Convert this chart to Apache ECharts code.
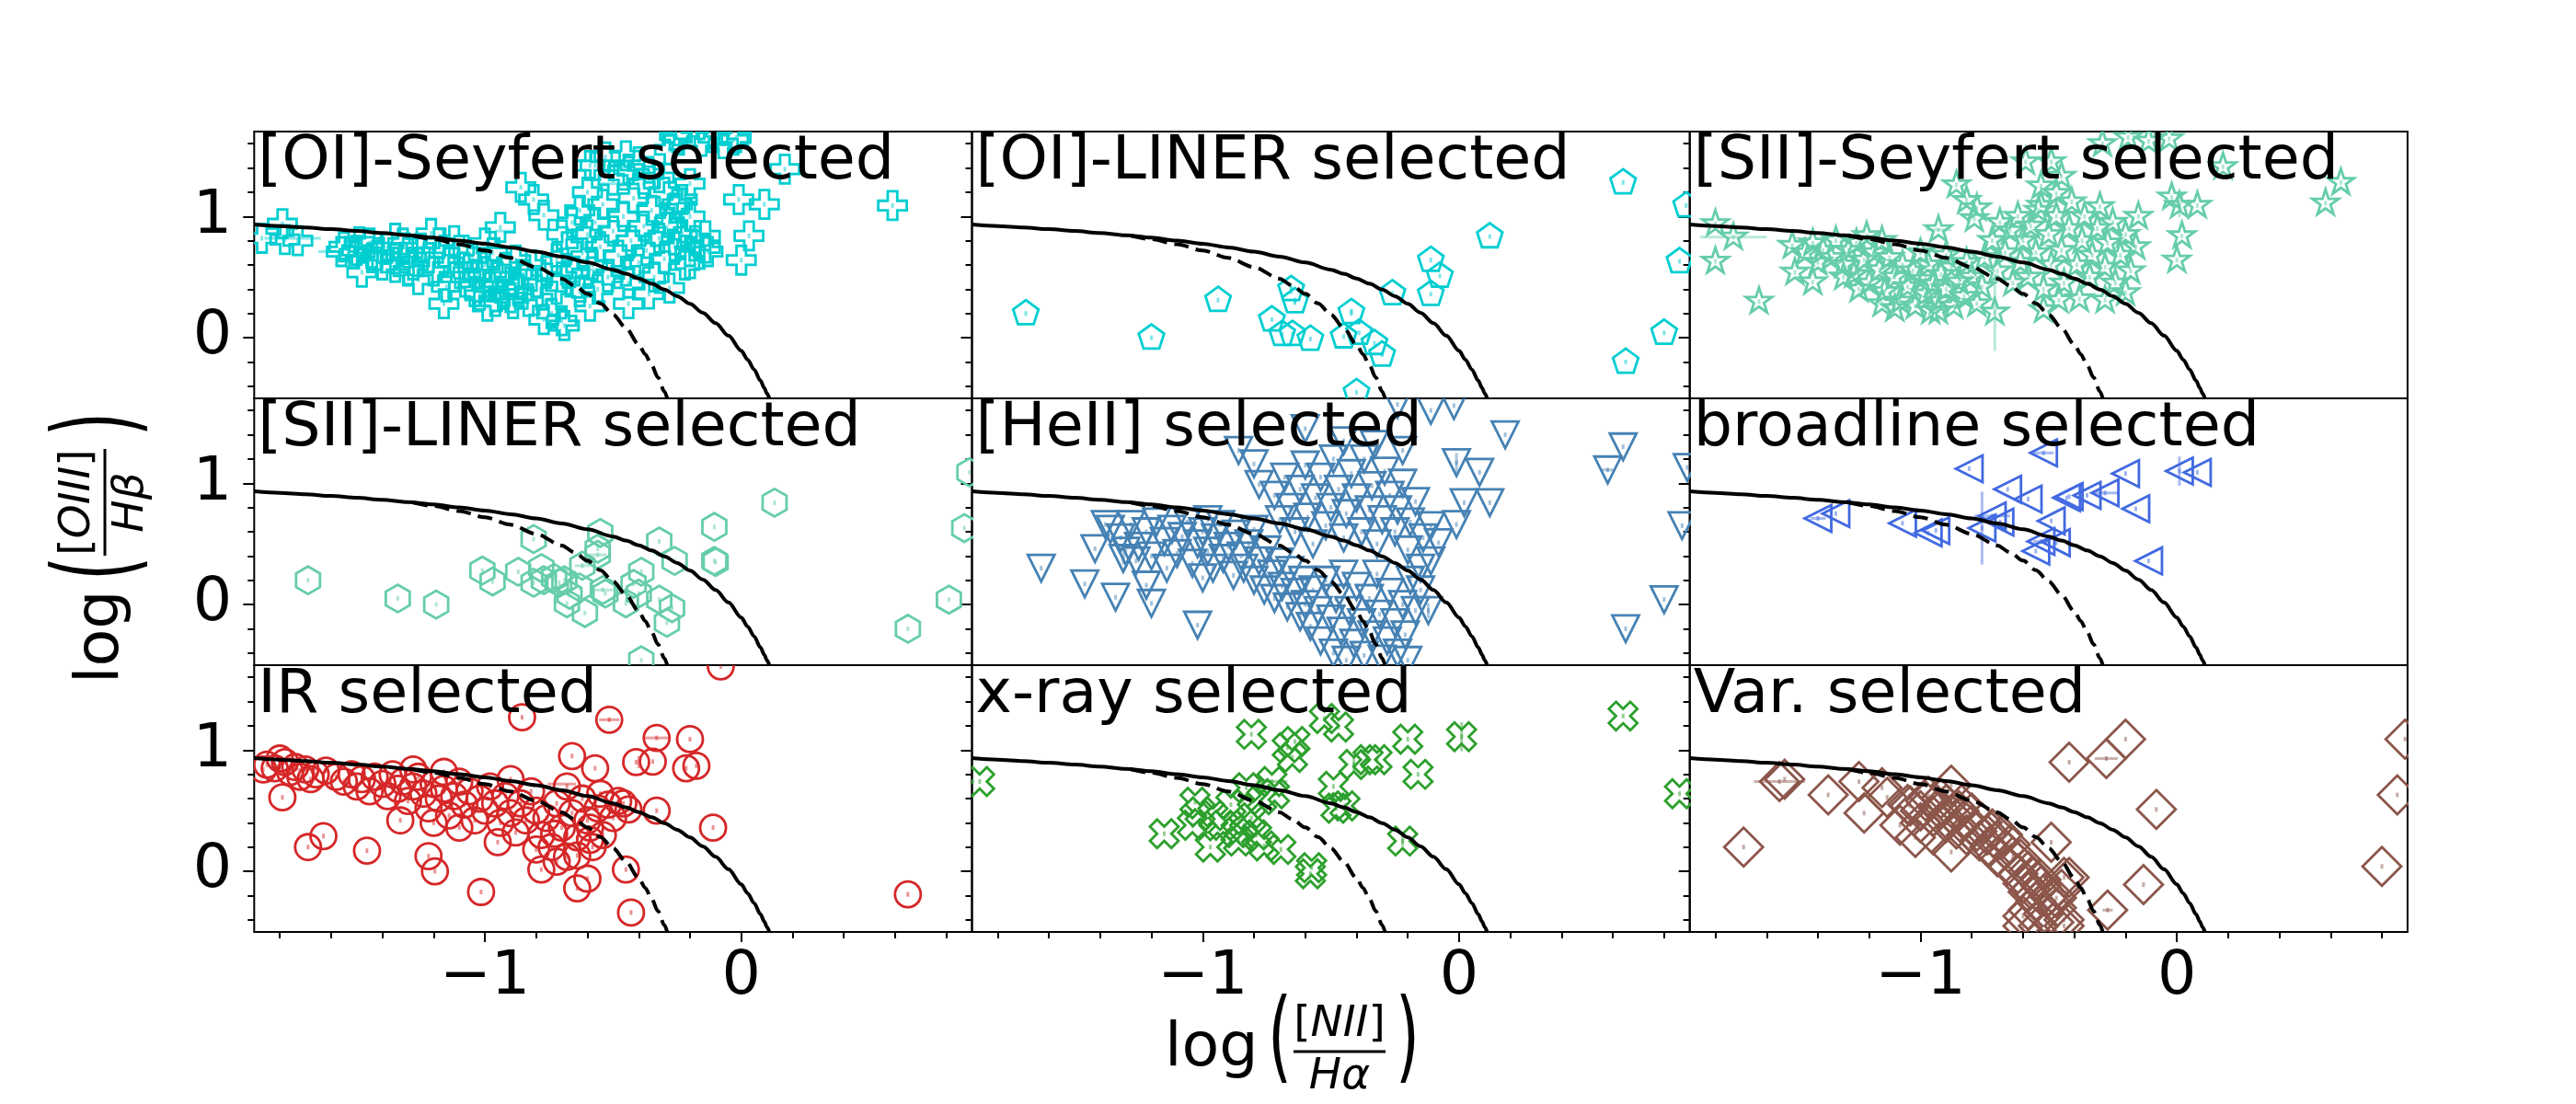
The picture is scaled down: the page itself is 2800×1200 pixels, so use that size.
<!DOCTYPE html>
<html><head><meta charset="utf-8">
<script src="https://cdn.jsdelivr.net/npm/echarts@6/dist/echarts.min.js"></script>
<style>html,body{margin:0;padding:0;background:#fff}#c{width:2800px;height:1200px}</style>
</head><body><div id="c"></div>
<script>
// ---------- axis ranges & ticks ----------
const xRange = [-1.9, 0.9];
const yRange = [-0.5, 1.7];
const xMajorTicks = [-1, 0];
const xMinorTicks = [-1.8,-1.6,-1.4,-1.2,-0.8,-0.6,-0.4,-0.2,0.2,0.4,0.6,0.8];
const yMajorTicks = [0, 1];
const yMinorTicks = [-0.4,-0.2,0.2,0.4,0.6,0.8,1.2,1.4,1.6];

const panelTitles = ['[OI]-Seyfert selected','[OI]-LINER selected','[SII]-Seyfert selected',
  '[SII]-LINER selected','[HeII] selected','broadline selected',
  'IR selected','x-ray selected','Var. selected'];

// ---------- demarcation curves ----------
const kewleyCurve = [[-1.9,0.933],[-1.8,0.921],[-1.7,0.909],[-1.6,0.895],[-1.5,0.880],[-1.4,0.864],[-1.3,0.845],[-1.2,0.825],[-1.1,0.801],[-1.0,0.775],[-0.9,0.745],[-0.8,0.710],[-0.7,0.669],[-0.6,0.620],[-0.5,0.561],[-0.45,0.527],[-0.4,0.489],[-0.35,0.446],[-0.3,0.398],[-0.25,0.343],[-0.2,0.280],[-0.15,0.206],[-0.1,0.120],[-0.05,0.017],[0.0,-0.108],[0.025,-0.181],[0.05,-0.262],[0.075,-0.354],[0.09,-0.415],[0.1,-0.459],[0.11,-0.504]];
const kauffmannCurve = [[-1.28,0.841],[-1.2,0.812],[-1.1,0.770],[-1.0,0.719],[-0.9,0.658],[-0.8,0.582],[-0.7,0.487],[-0.65,0.429],[-0.6,0.362],[-0.55,0.283],[-0.5,0.191],[-0.45,0.080],[-0.4,-0.056],[-0.375,-0.135],[-0.35,-0.225],[-0.325,-0.327],[-0.3,-0.443],[-0.289,-0.499]];

// ---------- data: [log NII/Ha, log OIII/Hb] ----------
const oiSeyfert = [[-1.87,0.82],[-1.78,0.81],[-1.73,0.80],[-1.79,0.94],[-1.49,0.79],[-1.51,0.69],[-1.48,0.54],[-1.56,0.71],[-1.44,0.66],[-1.35,0.58],[-1.21,0.86],[-1.16,0.28],[-1.04,0.38],[-0.99,0.26],[-0.94,0.91],[-0.89,0.28],[-0.86,1.24],[-0.81,1.14],[-0.77,1.01],[-0.77,0.15],[-0.69,0.10],[-0.59,1.42],[-0.53,1.49],[-0.46,1.34],[-0.38,1.27],[-0.25,1.65],[-0.155,1.62],[-0.03,1.63],[0.17,1.39],[-0.01,1.14],[0.09,1.10],[0.03,0.84],[0.0,0.64],[0.59,1.09],[-0.20,0.71],[-0.14,0.74],[-0.28,0.41],[-0.36,0.36],[-0.44,0.28],[-0.59,0.26],[-0.63,0.38],
 [-0.26,1.67],[-0.20,1.68],[-0.11,1.65],[-0.02,1.65],[-0.07,1.60],[-0.57,1.42],[-0.44,1.39],[-0.32,1.32],[-0.20,1.27],[-0.23,1.14],[-0.26,1.07],[-0.29,0.91],[-0.14,0.84],[-0.13,0.71],[-0.20,0.61],
 [-1.55,0.75],[-1.5,0.72],[-1.45,0.78],[-1.42,0.68],[-1.38,0.74],[-1.35,0.65],[-1.32,0.78],[-1.3,0.7],[-1.28,0.6],[-1.25,0.74],[-1.22,0.66],[-1.2,0.55],[-1.18,0.78],[-1.16,0.7],[-1.14,0.62],[-1.12,0.5],[-1.1,0.72],[-1.08,0.58],[-1.06,0.45],[-1.05,0.66],[-1.03,0.52],[-1.0,0.6],[-0.98,0.42],[-0.97,0.7],[-0.95,0.5],[-0.93,0.36],[-0.92,0.58],[-0.9,0.46],[-0.88,0.64],[-0.87,0.4],[-0.85,0.52],[-0.83,0.3],[-0.82,0.6],[-0.8,0.45],[-0.78,0.35],[-0.76,0.55],[-0.74,0.2],[-0.72,0.4],[-0.7,0.14],[-0.7,0.5],[-1.3,0.55],[-1.4,0.6],[-1.26,0.48],[-1.15,0.42],[-1.02,0.35],[-0.96,0.3],[-0.9,0.33],[-1.12,0.8],[-1.35,0.82],[-1.0,0.78],
 [-0.72,0.65],[-0.7,0.85],[-0.68,0.75],[-0.66,0.95],[-0.65,0.55],[-0.63,1.05],[-0.62,0.7],[-0.6,0.85],[-0.6,1.2],[-0.58,0.6],[-0.57,0.95],[-0.55,0.75],[-0.54,1.1],[-0.52,0.5],[-0.5,0.88],[-0.5,1.3],[-0.48,0.68],[-0.46,1.0],[-0.45,0.55],[-0.43,0.8],[-0.42,1.15],[-0.4,0.62],[-0.38,0.92],[-0.37,0.72],[-0.35,1.05],[-0.34,0.5],[-0.32,0.82],[-0.3,0.65],[-0.3,1.2],[-0.28,0.95],[-0.26,0.75],[-0.25,1.1],[-0.23,0.85],[-0.22,0.6],[-0.2,1.0],[-0.18,0.8],[-0.64,0.45],[-0.56,0.4],[-0.44,0.45],[-0.36,1.35],[-0.4,1.45],[-0.45,1.5],[-0.28,1.55]];
const oiSeyfertErr = [[-1.75,0.82,0.11,0],[-1.60,0.71,0.05,0],[-0.92,0.88,0.04,0],[-0.50,1.27,0.05,0],[-0.60,0.56,0.04,0]];

const oiLiner = [[-1.69,0.20],[-1.20,0.00],[-0.94,0.31],[-0.73,0.15],[-0.655,0.40],[-0.64,0.30],[-0.69,0.03],[-0.65,0.03],[-0.58,-0.01],[-0.45,0.01],[-0.42,0.21],[-0.39,0.04],[-0.33,-0.045],[-0.30,-0.14],[-0.40,-0.45],[-0.26,0.365],[-0.11,0.64],[-0.075,0.51],[-0.11,0.36],[0.12,0.835],[0.64,1.28],[0.886,1.09],[0.86,0.63],[0.80,0.04],[0.65,-0.20]];
const oiLinerErr = [[-0.655,0.40,0,0.04],[-0.64,0.30,0,0.03],[-0.42,0.21,0,0.03]];

const siiSeyfert = [[-1.80,0.94],[-1.73,0.83],[-1.80,0.63],[-1.63,0.30],[-1.50,0.76],[-1.49,0.54],[-1.42,0.46],[-1.21,0.84],[-0.93,0.89],[-0.86,1.26],[-0.82,1.13],[-0.79,0.98],[-0.78,1.07],[-0.59,1.45],[-0.49,1.45],[-0.45,1.33],[-0.53,1.25],[-0.47,1.19],[-0.53,1.09],[-0.29,1.60],[-0.19,1.65],[-0.11,1.62],[-0.03,1.64],[0.18,1.41],[-0.02,1.16],[0.01,1.09],[0.08,1.09],[0.02,0.84],[0.0,0.64],[0.64,1.28],[0.58,1.11],[-0.20,0.37],[-0.28,0.31],[-0.38,0.32],[-0.46,0.31],[-0.52,0.23],[-0.93,0.22],[-0.71,0.21],[-1.15,0.28],
 [-1.45,0.7],[-1.42,0.78],[-1.4,0.62],[-1.38,0.72],[-1.35,0.66],[-1.33,0.8],[-1.3,0.6],[-1.28,0.72],[-1.26,0.52],[-1.25,0.78],[-1.22,0.64],[-1.2,0.45],[-1.18,0.7],[-1.16,0.56],[-1.14,0.38],[-1.12,0.66],[-1.1,0.5],[-1.08,0.3],[-1.07,0.6],[-1.05,0.42],[-1.03,0.55],[-1.02,0.26],[-1.0,0.48],[-0.98,0.36],[-0.97,0.6],[-0.95,0.44],[-0.93,0.3],[-0.92,0.52],[-0.9,0.4],[-0.88,0.58],[-0.87,0.26],[-0.85,0.46],[-0.83,0.34],[-0.82,0.62],[-0.8,0.5],[-0.78,0.28],[-0.76,0.42],[-0.75,0.66],[-1.3,0.5],[-1.15,0.8],[-1.0,0.7],[-0.9,0.68],[-1.1,0.24],[-0.96,0.22],[-1.24,0.4],
 [-0.72,0.8],[-0.7,0.55],[-0.69,0.95],[-0.67,0.7],[-0.65,0.88],[-0.64,0.45],[-0.62,1.0],[-0.61,0.62],[-0.6,0.8],[-0.58,0.5],[-0.57,0.92],[-0.55,0.7],[-0.54,1.05],[-0.52,0.4],[-0.5,0.85],[-0.49,0.6],[-0.47,1.0],[-0.45,0.72],[-0.44,0.45],[-0.42,0.9],[-0.41,1.12],[-0.39,0.6],[-0.37,0.8],[-0.36,1.0],[-0.34,0.5],[-0.33,0.68],[-0.31,0.9],[-0.3,1.08],[-0.28,0.58],[-0.27,0.78],[-0.25,0.95],[-0.24,0.45],[-0.22,0.68],[-0.2,0.85],[-0.18,0.55],[-0.16,0.75],[-0.15,1.0]];
const siiSeyfertErr = [[-1.73,0.83,0.13,0],[-0.71,0.21,0,0.32],[0.01,1.09,0,0.1],[-0.93,0.89,0.05,0]];

const siiLiner = [[-1.69,0.20],[-1.34,0.05],[-1.19,0.00],[-1.01,0.28],[-0.97,0.19],[-0.87,0.27],[-0.81,0.54],[-0.81,0.18],[-0.78,0.30],[-0.77,0.20],[-0.73,0.22],[-0.71,0.18],[-0.69,0.20],[-0.67,0.08],[-0.68,0.01],[-0.62,0.32],[-0.61,-0.07],[-0.56,0.46],[-0.55,0.59],[-0.56,0.41],[-0.54,0.12],[-0.53,0.09],[-0.63,0.14],[-0.45,0.01],[-0.42,0.17],[-0.39,0.27],[-0.40,0.09],[-0.32,0.52],[-0.32,0.04],[-0.27,-0.03],[-0.29,-0.15],[-0.26,0.36],[-0.39,-0.46],[-0.105,0.64],[-0.105,0.36],[-0.10,0.35],[0.13,0.84],[0.87,0.63],[0.89,1.09],[0.81,0.04],[0.65,-0.20]];
const siiLinerErr = [[-0.62,0.32,0.03,0],[-0.54,0.12,0.04,0],[-0.56,0.41,0.035,0]];

const heII = [[-1.63,0.30],[-1.46,0.17],[-1.42,0.46],[-1.38,0.66],[-1.34,0.06],[-1.31,0.38],[-1.22,0.16],[-1.20,0.01],[-1.02,-0.17],[-0.86,1.27],[-0.80,1.16],[-0.78,0.99],[0.18,1.40],[-0.01,1.17],[0.08,1.09],[0.02,0.84],[0.12,0.84],[-0.01,0.66],[0.64,1.30],[0.58,1.11],[0.89,1.13],[0.87,0.65],[0.80,0.04],[0.65,-0.20],[-0.12,-0.05],[-0.11,0.36],[-0.11,0.65],[-0.08,0.51],[-0.60,1.45],[-0.24,1.65],[-0.11,1.60],[-0.02,1.64],[-0.45,1.35],[-0.33,1.32],[-0.22,1.27],
 [-1.36,0.62],[-1.32,0.55],[-1.28,0.66],[-1.25,0.48],[-1.22,0.6],[-1.2,0.4],[-1.18,0.68],[-1.15,0.52],[-1.12,0.62],[-1.1,0.42],[-1.08,0.56],[-1.06,0.68],[-1.04,0.34],[-1.02,0.5],[-1.0,0.6],[-0.98,0.44],[-0.96,0.3],[-0.95,0.55],[-0.93,0.66],[-0.92,0.38],[-0.9,0.48],[-0.88,0.24],[-0.87,0.58],[-0.85,0.4],[-0.84,0.3],[-0.82,0.5],[-0.8,0.2],[-0.8,0.62],[-0.78,0.36],[-0.76,0.12],[-0.75,0.45],[-0.73,0.25],[-0.72,0.05],[-0.7,0.35],[-0.69,0.15],[-0.67,-0.02],[-0.66,0.28],[-0.64,0.1],[-0.62,-0.1],[-0.61,0.2],[-1.26,0.36],[-1.14,0.3],[-1.0,0.22],[-0.98,0.7],[-1.3,0.44],
 [-0.6,0.0],[-0.58,-0.18],[-0.57,0.12],[-0.55,-0.05],[-0.54,-0.3],[-0.52,0.2],[-0.5,-0.12],[-0.49,-0.4],[-0.48,0.05],[-0.46,-0.22],[-0.45,0.25],[-0.44,-0.46],[-0.43,-0.05],[-0.41,-0.32],[-0.4,0.15],[-0.38,-0.15],[-0.37,-0.42],[-0.35,0.05],[-0.34,-0.25],[-0.32,0.25],[-0.31,-0.08],[-0.3,-0.45],[-0.28,-0.3],[-0.27,0.1],[-0.25,-0.15],[-0.24,-0.4],[-0.22,0.0],[-0.21,-0.25],[-0.19,0.2],[-0.2,-0.46],[-0.17,-0.05],[-0.15,0.12],
 [-0.72,0.9],[-0.7,0.7],[-0.68,1.05],[-0.66,0.8],[-0.64,0.6],[-0.62,0.95],[-0.6,1.15],[-0.59,0.72],[-0.57,0.5],[-0.56,0.88],[-0.54,1.05],[-0.52,0.65],[-0.5,0.8],[-0.49,1.2],[-0.47,0.95],[-0.45,0.55],[-0.44,0.75],[-0.42,1.08],[-0.4,0.88],[-0.38,0.6],[-0.37,1.2],[-0.35,0.78],[-0.34,0.98],[-0.32,0.5],[-0.3,0.7],[-0.29,1.1],[-0.27,0.9],[-0.25,0.6],[-0.24,0.78],[-0.22,1.0],[-0.2,0.45],[-0.19,0.68],[-0.17,0.85],[-0.15,0.3],[-0.14,0.55]];
const heIIErr = [[-0.01,1.17,0,0.08],[0.58,1.11,0.03,0],[-0.12,-0.05,0,0.06],[-1.31,0.38,0,0.05]];

const broadline = [[-1.40,0.71],[-1.33,0.75],[-1.07,0.67],[-0.97,0.59],[-0.94,0.61],[-0.81,1.12],[-0.76,0.63],[-0.72,0.73],[-0.69,0.68],[-0.66,0.95],[-0.58,0.87],[-0.52,1.25],[-0.49,0.69],[-0.53,0.52],[-0.47,0.51],[-0.55,0.44],[-0.42,0.89],[-0.43,0.88],[-0.35,0.90],[-0.28,0.92],[-0.20,1.08],[-0.16,0.79],[-0.11,0.36],[0.01,1.10],[0.08,1.09]];
const broadlineErr = [[-0.76,0.63,0,0.3],[0.01,1.10,0,0.12],[-0.72,0.73,0.07,0],[-0.52,1.25,0.04,0],[-0.28,0.92,0.05,0],[-1.40,0.71,0.03,0],[-0.53,0.52,0.03,0]];

const irSel = [[-0.08,1.69],[-0.855,1.27],[-0.515,1.25],[-0.33,1.10],[-0.20,1.09],[-0.66,0.95],[-0.57,0.85],[-0.41,0.90],[-0.345,0.905],[-0.215,0.85],[-0.175,0.87],[-1.79,0.61],[-1.69,0.20],[-1.63,0.29],[-1.46,0.17],[-1.22,0.125],[-1.195,0.0],[-1.015,-0.17],[-0.78,0.015],[-0.64,-0.14],[-0.60,-0.06],[-0.45,0.015],[-0.43,-0.34],[-0.33,0.50],[-0.11,0.36],[0.65,-0.19],[-1.865,0.84],[-1.80,0.93],[-0.46,0.56],[-0.55,0.64],[-0.44,0.51],[-0.59,0.36],
 [-1.85,0.88],[-1.82,0.85],[-1.78,0.9],[-1.76,0.82],[-1.74,0.86],[-1.72,0.78],[-1.7,0.84],[-1.68,0.76],[-1.66,0.8],[-1.62,0.83],[-1.58,0.78],[-1.55,0.74],[-1.52,0.8],[-1.5,0.7],[-1.48,0.76],[-1.45,0.66],[-1.43,0.78],[-1.4,0.72],[-1.38,0.62],[-1.36,0.8],[-1.34,0.68],[-1.32,0.74],[-1.3,0.58],[-1.28,0.7],[-1.26,0.78],[-1.24,0.64],[-1.22,0.52],[-1.2,0.72],[-1.18,0.6],[-1.16,0.68],[-1.14,0.46],[-1.12,0.62],[-1.1,0.74],[-1.08,0.55],[-1.06,0.66],[-1.04,0.42],[-1.02,0.6],[-1.0,0.5],[-0.98,0.7],[-0.96,0.56],[-0.94,0.4],[-0.92,0.62],[-0.9,0.48],[-0.88,0.32],[-0.86,0.56],[-0.84,0.42],[-0.82,0.66],[-0.8,0.5],[-0.78,0.3],[-0.76,0.44],[-0.74,0.2],[-0.72,0.56],[-0.7,0.36],[-0.68,0.12],[-0.66,0.48],[-0.64,0.28],[-0.62,0.6],[-0.6,0.42],[-0.58,0.2],[-0.56,0.52],[-0.54,0.3],[-0.52,0.55],[-0.5,0.44],[-0.48,0.58],[-1.33,0.42],[-1.2,0.4],[-1.1,0.36],[-0.95,0.24],[-0.8,0.18],[-0.72,0.08],[-1.28,0.84],[-1.16,0.82],[-0.68,0.7],[-0.9,0.76],[-0.73,0.31],[-0.64,0.13],[-0.59,0.26]];
const irSelErr = [[-0.515,1.25,0.04,0],[-0.33,1.10,0.05,0],[-0.70,0.72,0.055,0],[-1.70,0.84,0.06,0],[-0.40,0.90,0,0.05]];

const xraySel = [[-1.87,0.74],[-1.15,0.31],[-1.03,0.57],[-1.01,0.49],[-0.97,0.20],[-0.96,0.46],[-0.89,0.55],[-0.87,0.32],[-0.86,0.25],[-0.84,0.38],[-0.83,0.69],[-0.81,1.13],[-0.79,0.30],[-0.77,0.59],[-0.76,0.21],[-0.73,0.74],[-0.72,0.64],[-0.695,0.18],[-0.67,1.02],[-0.65,0.94],[-0.64,1.07],[-0.58,-0.02],[-0.575,0.03],[-0.525,1.26],[-0.47,1.19],[-0.49,0.70],[-0.48,0.52],[-0.445,0.54],[-0.41,0.88],[-0.355,0.92],[-0.32,0.92],[-0.22,0.25],[-0.20,1.09],[-0.16,0.80],[0.01,1.11],[0.64,1.28],[0.86,0.64],[-1.04,0.38],[-0.92,0.38],[-0.81,0.44]];
const xraySelErr = [[0.01,1.11,0,0.12],[-0.73,0.74,0.06,0],[-0.41,0.88,0,0.06],[-0.22,0.25,0,0.04]];

const varSel = [[-1.69,0.20],[-1.55,0.74],[-1.53,0.76],[-1.36,0.63],[-1.24,0.74],[-1.22,0.48],[-1.15,0.69],[-1.13,0.61],[-1.08,0.38],[-1.04,0.54],[-1.02,0.28],[-0.88,0.71],[-0.88,0.16],[-0.49,0.24],[-0.42,0.90],[-0.275,0.93],[-0.20,1.09],[-0.08,0.51],[-0.13,-0.11],[-0.27,-0.32],[0.89,1.09],[0.86,0.63],[0.80,0.04],
 [-1.05,0.55],[-1.0,0.5],[-0.98,0.58],[-0.95,0.45],[-0.93,0.52],[-0.9,0.4],[-0.9,0.55],[-0.88,0.47],[-0.86,0.35],[-0.85,0.5],[-0.83,0.42],[-0.82,0.3],[-0.8,0.38],[-0.8,0.48],[-0.78,0.33],[-0.77,0.25],[-0.76,0.4],[-0.74,0.3],[-0.73,0.2],[-0.72,0.35],[-0.7,0.25],[-0.7,0.12],[-0.68,0.3],[-0.67,0.18],[-0.66,0.05],[-0.65,0.22],[-0.64,0.12],[-0.62,-0.02],[-0.61,0.1],[-0.6,-0.1],[-0.58,0.0],[-0.57,-0.15],[-0.56,-0.05],[-0.55,-0.25],[-0.53,-0.12],[-0.52,-0.35],[-0.5,-0.2],[-0.48,-0.42],[-0.47,-0.3],[-0.45,-0.15],[-0.44,-0.45],[-0.42,-0.05],[-0.58,-0.32],[-0.6,-0.45],[-1.0,0.4],[-0.95,0.3],[-0.97,0.62],[-0.92,0.6],[-0.84,0.55],[-0.58,-0.17],[-0.53,-0.07],[-0.47,-0.22],[-0.44,-0.05],[-0.44,-0.40],[-0.60,-0.37],[-0.54,-0.45]];
const varSelErr = [[-1.55,0.74,0.1,0],[-0.275,0.93,0.045,0],[-0.27,-0.32,0.02,0],[-0.44,-0.17,0.03,0]];

// ---------- marker outlines (unit templates, scaled by a radius in px) ----------
const markerShapes = {
  plus: [[-1/3,-1],[1/3,-1],[1/3,-1/3],[1,-1/3],[1,1/3],[1/3,1/3],[1/3,1],[-1/3,1],[-1/3,1/3],[-1,1/3],[-1,-1/3],[-1/3,-1/3]],
  xFilled: [[-0.5,-1],[0,-0.5],[0.5,-1],[1,-0.5],[0.5,0],[1,0.5],[0.5,1],[0,0.5],[-0.5,1],[-1,0.5],[-0.5,0],[-1,-0.5]],
  pentagon: [[0,-1],[0.951,-0.309],[0.588,0.809],[-0.588,0.809],[-0.951,-0.309]],
  star: [[0,-1],[0.2245,-0.309],[0.951,-0.309],[0.3633,0.118],[0.588,0.809],[0,0.382],[-0.588,0.809],[-0.3633,0.118],[-0.951,-0.309],[-0.2245,-0.309]],
  hexagon: [[0,-1],[0.866,-0.5],[0.866,0.5],[0,1],[-0.866,0.5],[-0.866,-0.5]],
  triDown: [[-1,-1],[1,-1],[0,1]],
  triLeft: [[1,-1],[1,1],[-1,0]],
  diamond: [[0,-1],[1,0],[0,1],[-1,0]]
};
const panels = [
  {data: oiSeyfert, err: oiSeyfertErr, color:'#00CED1', shape:'plus', r: 15.5},
  {data: oiLiner, err: oiLinerErr, color:'#00CED1', shape:'pentagon', r: 14.5},
  {data: siiSeyfert, err: siiSeyfertErr, color:'#66CDAA', shape:'star', r: 15},
  {data: siiLiner, err: siiLinerErr, color:'#66CDAA', shape:'hexagon', r: 15},
  {data: heII, err: heIIErr, color:'#4682B4', shape:'triDown', r: 14.5},
  {data: broadline, err: broadlineErr, color:'#4169E1', shape:'triLeft', r: 14.5},
  {data: irSel, err: irSelErr, color:'#D62728', shape:'circle', r: 14},
  {data: xraySel, err: xraySelErr, color:'#2CA02C', shape:'xFilled', r: 15.5},
  {data: varSel, err: varSelErr, color:'#8C564B', shape:'diamond', r: 21}
];

const FONT = '"DejaVu Sans"';
const FS = 66.7;
const L0 = 276.3, T0 = 143, CW = 780.2, CH = 290;
const fmt = v => (v < 0 ? '\u2212' + Math.abs(v) : String(v));
const tickLine = {color:'#000', width:2};

const grids = [], xAxes = [], yAxes = [], series = [], graphics = [];
panels.forEach((p, i) => {
  const r = Math.floor(i / 3), c = i % 3;
  const bottom = r === 2, leftCol = c === 0;
  grids.push({left: L0 + c*CW, top: T0 + r*CH, width: CW, height: CH, show: true,
    borderColor:'#000', borderWidth: 2, backgroundColor:'rgba(0,0,0,0)', containLabel:false});
  const xi = xAxes.length;
  xAxes.push({gridIndex:i, type:'value', min:xRange[0], max:xRange[1], position:'bottom',
    axisLine:{show:false, onZero:false}, splitLine:{show:false},
    axisTick:{show:bottom, customValues:xMajorTicks, length:11, lineStyle:tickLine},
    axisLabel:{show:bottom, customValues:xMajorTicks, formatter:fmt, fontSize:FS, fontFamily:FONT, color:'#000', margin:16}});
  if (bottom) xAxes.push({gridIndex:i, type:'value', min:xRange[0], max:xRange[1], position:'bottom',
    axisLine:{show:false, onZero:false}, splitLine:{show:false}, axisLabel:{show:false},
    axisTick:{show:true, customValues:xMinorTicks, length:7, lineStyle:tickLine}});
  const yi = yAxes.length;
  yAxes.push({gridIndex:i, type:'value', min:yRange[0], max:yRange[1], position:'left',
    axisLine:{show:false, onZero:false}, splitLine:{show:false},
    axisTick:{show:true, customValues:yMajorTicks, length:12, lineStyle:tickLine},
    axisLabel:{show:leftCol, customValues:yMajorTicks, formatter:fmt, fontSize:FS, fontFamily:FONT, color:'#000', margin:24}});
  yAxes.push({gridIndex:i, type:'value', min:yRange[0], max:yRange[1], position:'left',
    axisLine:{show:false, onZero:false}, splitLine:{show:false}, axisLabel:{show:false},
    axisTick:{show:true, customValues:yMinorTicks, length:7, lineStyle:tickLine}});

  // error bars
  series.push({type:'custom', xAxisIndex:xi, yAxisIndex:yi, data:p.err, z:1, silent:true, clip:true,
    renderItem:(params, api) => {
      const x = api.value(0), y = api.value(1), xe = api.value(2), ye = api.value(3);
      const ch = [];
      const st = {stroke:p.color, lineWidth:3, opacity:0.45};
      if (xe > 0) { const a = api.coord([x-xe, y]), b = api.coord([x+xe, y]);
        ch.push({type:'line', shape:{x1:a[0], y1:a[1], x2:b[0], y2:b[1]}, style:st}); }
      if (ye > 0) { const a = api.coord([x, y-ye]), b = api.coord([x, y+ye]);
        ch.push({type:'line', shape:{x1:a[0], y1:a[1], x2:b[0], y2:b[1]}, style:st}); }
      return {type:'group', children:ch};
    }});
  // hollow markers (with the faint central error-bar dot), clipped to the panel
  series.push({type:'custom', xAxisIndex:xi, yAxisIndex:yi, data:p.data, z:2, silent:true, clip:true,
    renderItem:(params, api) => {
      const pt = api.coord([api.value(0), api.value(1)]);
      const st = {fill:'none', stroke:p.color, lineWidth:2.8};
      const dot = {type:'rect', shape:{x:pt[0]-1.5, y:pt[1]-2.5, width:3, height:5}, style:{fill:p.color, opacity:0.5}};
      let outline;
      if (p.shape === 'circle') outline = {type:'circle', shape:{cx:pt[0], cy:pt[1], r:p.r}, style:st};
      else outline = {type:'polygon', shape:{points: markerShapes[p.shape].map(v => [pt[0] + v[0]*p.r, pt[1] + v[1]*p.r])}, style:st};
      return {type:'group', children:[dot, outline]};
    }});
  series.push({type:'line', xAxisIndex:xi, yAxisIndex:yi, data:kewleyCurve, showSymbol:false,
    smooth:0.3, smoothMonotone:'x', silent:true, z:3, clip:true, lineStyle:{color:'#000', width:4}});
  series.push({type:'line', xAxisIndex:xi, yAxisIndex:yi, data:kauffmannCurve, showSymbol:false,
    smooth:0.3, smoothMonotone:'x', silent:true, z:3, clip:true, lineStyle:{color:'#000', width:4, type:[16,8]}});

  graphics.push({type:'text', x: L0 + c*CW + 4, y: T0 + r*CH + 34, z:10, silent:true,
    style:{text: panelTitles[i], font: FS + 'px ' + FONT, fill:'#000', align:'left', verticalAlign:'middle'}});
});

// axis titles: log( num / den ), built in local coords (origin = start of "log", at baseline)
function fracLabel(numRich, den, o) {
  const f = 47, off = 0.297;
  const upright = {fontSize:f, fontFamily:FONT, fontStyle:'normal', fill:'#000'};
  const ital = {fontSize:f, fontFamily:FONT, fontStyle:'italic', fill:'#000'};
  return {type:'group', x:o.x, y:o.y, rotation:o.rot, z:10, silent:true, children:[
    {type:'text', style:{text:'log', x:0, y:-off*FS, font: FS+'px '+FONT, fill:'#000', align:'left', verticalAlign:'middle'}},
    {type:'text', x:o.lp, y:o.pcy, scaleY:o.pScale, style:{text:'(', x:0, y:0, font: FS+'px '+FONT, fill:'#000', align:'center', verticalAlign:'middle'}},
    {type:'text', x:o.rp, y:o.pcy, scaleY:o.pScale, style:{text:')', x:0, y:0, font: FS+'px '+FONT, fill:'#000', align:'center', verticalAlign:'middle'}},
    {type:'rect', shape:{x:o.cx - o.barLen/2, y:o.barY - 1.5, width:o.barLen, height:3}, style:{fill:'#000'}},
    {type:'text', style:{text:numRich, x:o.cx, y:o.numB - off*f, align:'center', verticalAlign:'middle', rich:{u:upright, i:ital}}},
    {type:'text', style:{text:den, x:o.cx, y:o.denB - off*f, font:'italic '+f+'px '+FONT, fill:'#000', align:'center', verticalAlign:'middle'}}
  ]};
}
graphics.push(fracLabel('{u|[}{i|NII}{u|]}', 'H\u03B1',
  {x:1266, y:1160, rot:0, lp:125, rp:264, pcy:-25, pScale:1.62, cx:190, barLen:100, barY:-17, numB:-32, denB:25}));
graphics.push(fracLabel('{u|[}{i|OIII}{u|]}', 'H\u03B2',
  {x:130, y:743, rot:Math.PI/2, lp:125, rp:282, pcy:-17.5, pScale:1.83, cx:197, barLen:116, barY:-16, numB:-31, denB:27}));

const chart = echarts.init(document.getElementById('c'), null, {renderer:'canvas'});
chart.setOption({
  backgroundColor:'#fff', animation:false,
  grid: grids, xAxis: xAxes, yAxis: yAxes, series: series,
  graphic: {elements: graphics}
});
</script></body></html>
